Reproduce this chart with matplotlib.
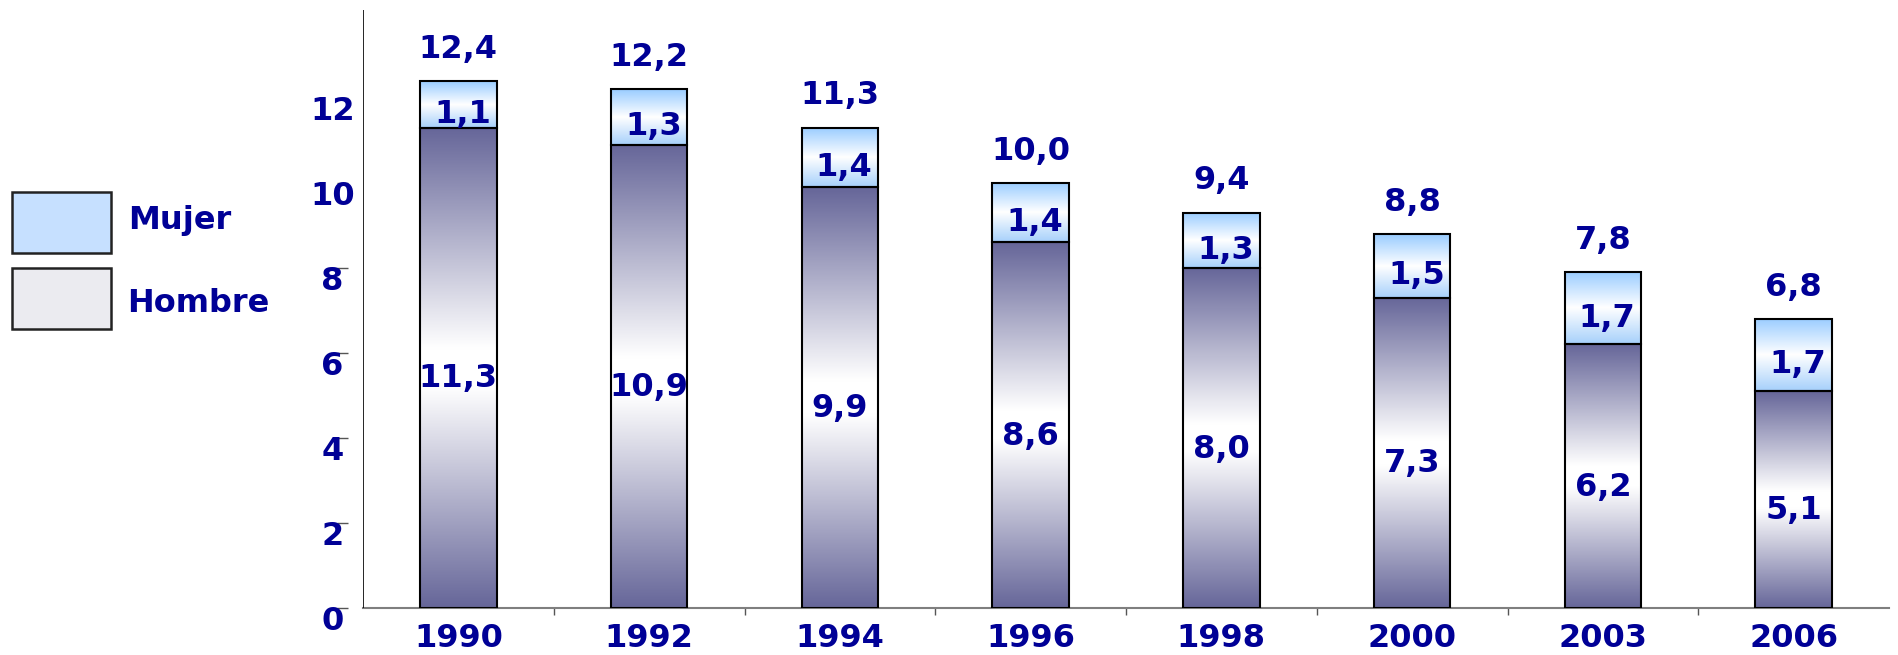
import numpy as np
import matplotlib
matplotlib.use("Agg")
import matplotlib.pyplot as plt
from matplotlib.colors import LinearSegmentedColormap
from matplotlib.patches import Rectangle
from matplotlib.transforms import ScaledTranslation

years = ['1990', '1992', '1994', '1996', '1998', '2000', '2003', '2006']
hombre = [11.3, 10.9, 9.9, 8.6, 8.0, 7.3, 6.2, 5.1]
mujer = [1.1, 1.3, 1.4, 1.4, 1.3, 1.5, 1.7, 1.7]
total = [12.4, 12.2, 11.3, 10.0, 9.4, 8.8, 7.8, 6.8]
yticks = [0, 2, 4, 6, 8, 10, 12]

navy = '#000096'
dark = '#666699'
blue = '#99ccff'
FS = 23

cmap_h = LinearSegmentedColormap.from_list('h', [(0, dark), (0.46, 'white'), (0.54, 'white'), (1, dark)])
cmap_m = LinearSegmentedColormap.from_list('m', [(0, '#a6d0fb'), (0.5, 'white'), (1, blue)])


def fmt(v):
    return f"{v:.1f}".replace('.', ',')


fig = plt.figure(figsize=(18.98, 6.55), dpi=100)
ax = fig.add_axes([363 / 1898, 47 / 655, 1526 / 1898, 598 / 655])

x = np.arange(len(years))
w = 0.40
bars_h = ax.bar(x, hombre, w, facecolor='none', edgecolor='black', linewidth=1.5, zorder=3)
bars_m = ax.bar(x, mujer, w, bottom=hombre, facecolor='none', edgecolor='black', linewidth=1.5, zorder=3)

# gradient fills inside each bar
grad = np.linspace(0, 1, 256).reshape(-1, 1)
for bars, cm in ((bars_h, cmap_h), (bars_m, cmap_m)):
    for p in bars:
        x0, y0 = p.get_x(), p.get_y()
        ax.imshow(grad, extent=(x0, x0 + p.get_width(), y0, y0 + p.get_height()),
                  aspect='auto', cmap=cm, origin='lower', zorder=2, interpolation='bilinear')

txt = dict(color=navy, fontsize=FS, fontweight='bold', ha='center', va='center')
for i in range(len(years)):
    ax.annotate(fmt(hombre[i]), (x[i], hombre[i] / 2), xytext=(0, -8),
                textcoords='offset points', zorder=5, **txt)
    ax.annotate(fmt(mujer[i]), (x[i], hombre[i] + mujer[i] / 2), xytext=(3, -7),
                textcoords='offset points', zorder=5, **txt)
    ax.annotate(fmt(total[i]), (x[i], hombre[i] + mujer[i]), xytext=(0, 23),
                textcoords='offset points', zorder=5, **txt)

ax.set_xlim(-0.5, len(years) - 0.5)
ax.set_ylim(0, 14.07)

# axes styling
for s in ('top', 'right'):
    ax.spines[s].set_visible(False)
ax.spines['bottom'].set_color('#7f7f7f')
ax.spines['bottom'].set_linewidth(1.5)
ax.spines['left'].set_position(('outward', 11))
ax.spines['left'].set_visible(False)
ax.axvline(-0.5, color='black', linewidth=1.2, zorder=4)

ax.set_yticks(yticks)
ax.set_yticklabels([str(v) for v in yticks])
ax.tick_params(axis='y', length=8, width=1, color='#555555', pad=3,
               labelsize=FS, labelcolor=navy)
for lab in ax.get_yticklabels():
    lab.set_fontweight('bold')
    lab.set_horizontalalignment('center')
    lab.set_transform(lab.get_transform() + ScaledTranslation(0, -0.10, fig.dpi_scale_trans))

ax.set_xticks(x[:-1] + 0.5)
ax.set_xticks(x, minor=True)
ax.set_xticklabels([])
ax.set_xticklabels(years, minor=True)
ax.tick_params(axis='x', which='major', length=5, width=1, color='#555555')
ax.tick_params(axis='x', which='minor', length=0, pad=11, labelsize=FS, labelcolor=navy)
for lab in ax.get_xticklabels(minor=True):
    lab.set_fontweight('bold')

# legend on the left
fig.patches.append(Rectangle((12 / 1898, (655 - 253) / 655), 99 / 1898, 61 / 655,
                             transform=fig.transFigure, facecolor='#c6e0ff',
                             edgecolor='#222222', linewidth=1.8))
fig.patches.append(Rectangle((12 / 1898, (655 - 329) / 655), 99 / 1898, 61 / 655,
                             transform=fig.transFigure, facecolor='#ebebf0',
                             edgecolor='#222222', linewidth=1.8))
fig.text(128 / 1898, (655 - 220) / 655, 'Mujer', color=navy, fontsize=FS,
         fontweight='bold', va='center')
fig.text(127 / 1898, (655 - 303) / 655, 'Hombre', color=navy, fontsize=FS,
         fontweight='bold', va='center')

fig.savefig('out.png', dpi=100)
